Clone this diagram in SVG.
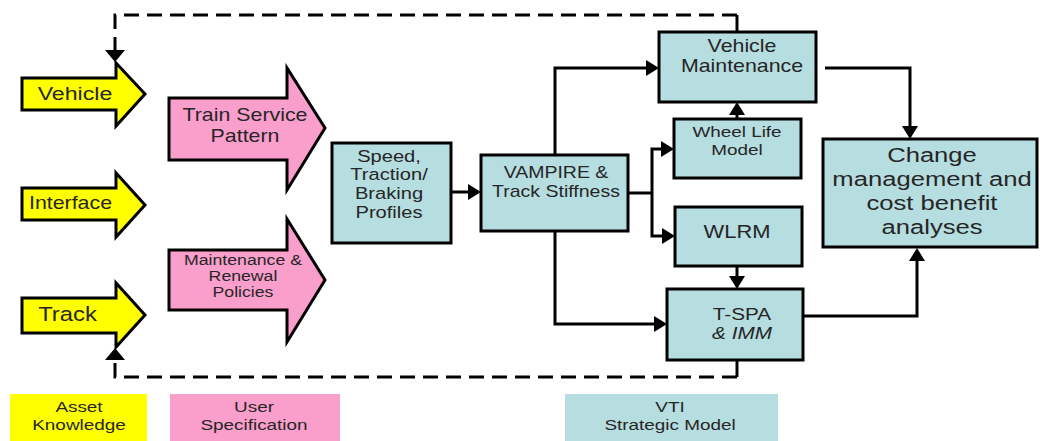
<svg xmlns="http://www.w3.org/2000/svg" width="1040" height="441" viewBox="0 0 1040 441">
  <style>
    .yel { fill: #FFFF00; stroke: #000; stroke-width: 3; stroke-linejoin: miter; }
    .pnk { fill: #FA9ECC; stroke: #000; stroke-width: 3; stroke-linejoin: miter; }
    .box { fill: #B6DDE0; stroke: #000; stroke-width: 3; }
    .lgy { fill: #FFFF00; }
    .lgp { fill: #FA9ECC; }
    .lgb { fill: #B6DDE0; }
    .wire { fill: none; stroke: #000; stroke-width: 3; }
    .dash { fill: none; stroke: #000; stroke-width: 3; stroke-dasharray: 15 8; }
    text { font-family: "Liberation Sans", Arial, sans-serif; fill: #262626; text-anchor: middle; }
  </style>
  <defs>
    <marker id="head" markerUnits="userSpaceOnUse" markerWidth="14" markerHeight="16" refX="10" refY="8" orient="auto">
      <path d="M0,0 L13,8 L0,16 Z" fill="#000"/>
    </marker>
    <!-- wider, flatter head used on the feedback loop -->
    <marker id="dhead" markerUnits="userSpaceOnUse" markerWidth="13" markerHeight="20" refX="9" refY="10" orient="auto">
      <path d="M0,0 L12,10 L0,20 Z" fill="#000"/>
    </marker>
  </defs>

  <rect width="1040" height="441" fill="#fff"/>

  <!-- connectors -->
  <g id="connectors">
    <!-- feedback loop -->
    <path class="wire" d="M737,32 V15"/>
    <path class="dash" d="M737,15 H115 V59" marker-end="url(#dhead)"/>
    <path class="wire" d="M737,360 V377"/>
    <path class="dash" d="M737,377 H115 V351" marker-end="url(#dhead)"/>
    <!-- model chain -->
    <path class="wire" d="M451,192 H478" marker-end="url(#head)"/>
    <path class="wire" d="M555,155 V68 H656" marker-end="url(#head)"/>
    <path class="wire" d="M555,231 V324 H664" marker-end="url(#head)"/>
    <path class="wire" d="M628,193 H652"/>
    <path class="wire" d="M652,193 V149 H671" marker-end="url(#head)"/>
    <path class="wire" d="M652,193 V236 H672" marker-end="url(#head)"/>
    <path class="wire" d="M737,119 V105" marker-end="url(#head)"/>
    <path class="wire" d="M737,266 V286" marker-end="url(#head)"/>
    <path class="wire" d="M825,68 H910 V136" marker-end="url(#head)"/>
    <path class="wire" d="M803,316 H917 V251" marker-end="url(#head)"/>
  </g>

  <!-- asset knowledge inputs -->
  <g id="vehicle">
    <polygon class="yel" points="22,78 116,78 116,63 145,94 116,126 116,110 22,110"/>
    <text font-size="19" transform="matrix(1.22 0 0 1 75 100)">Vehicle</text>
  </g>
  <g id="interface">
    <polygon class="yel" points="22,188 116,188 116,173 145,205 116,237 116,220 22,220"/>
    <text font-size="17.5" transform="matrix(1.22 0 0 1 70.5 209)">Interface</text>
  </g>
  <g id="track">
    <polygon class="yel" points="22,298 116,298 116,283 145,315 116,347 116,333 22,333"/>
    <text font-size="19.5" transform="matrix(1.22 0 0 1 67.5 321)">Track</text>
  </g>

  <!-- user specification -->
  <g id="train-service-pattern">
    <polygon class="pnk" points="169,98 287,98 287,68 325,128 287,190 287,160 169,160"/>
    <text font-size="17.5" transform="matrix(1.22 0 0 1 245 121)"><tspan x="0" y="0">Train Service</tspan><tspan x="0" y="21">Pattern</tspan></text>
  </g>
  <g id="maintenance-renewal">
    <polygon class="pnk" points="169,250 287,250 287,219 325,280 287,342 287,310 169,310"/>
    <text font-size="14.5" transform="matrix(1.22 0 0 1 243 265)"><tspan x="0" y="0">Maintenance &amp;</tspan><tspan x="0" y="16.5">Renewal</tspan><tspan x="0" y="32">Policies</tspan></text>
  </g>

  <!-- strategic model -->
  <g id="speed-profiles">
    <rect class="box" x="332" y="143" width="119" height="100"/>
    <text font-size="16.5" transform="matrix(1.22 0 0 1 389 162)"><tspan x="0" y="0">Speed,</tspan><tspan x="0" y="18.5">Traction/</tspan><tspan x="0" y="37">Braking</tspan><tspan x="0" y="56">Profiles</tspan></text>
  </g>
  <g id="vampire">
    <rect class="box" x="481" y="155" width="147" height="76"/>
    <text font-size="16" transform="matrix(1.22 0 0 1 556 178)"><tspan x="0" y="0">VAMPIRE &amp;</tspan><tspan x="0" y="19">Track Stiffness</tspan></text>
  </g>
  <g id="vehicle-maintenance">
    <rect class="box" x="659" y="32" width="157" height="70"/>
    <text font-size="17.5" transform="matrix(1.22 0 0 1 742 52)"><tspan x="0" y="0">Vehicle</tspan><tspan x="0" y="20">Maintenance</tspan></text>
  </g>
  <g id="wheel-life-model">
    <rect class="box" x="674" y="119" width="127" height="59"/>
    <text font-size="15.5" transform="matrix(1.22 0 0 1 737 137)"><tspan x="0" y="0">Wheel Life</tspan><tspan x="0" y="18">Model</tspan></text>
  </g>
  <g id="wlrm">
    <rect class="box" x="675" y="207" width="127" height="59"/>
    <text font-size="18" transform="matrix(1.22 0 0 1 737 238)">WLRM</text>
  </g>
  <g id="tspa-imm">
    <rect class="box" x="667" y="289" width="136" height="71"/>
    <text font-size="17" transform="matrix(1.22 0 0 1 742 320)"><tspan x="0" y="0">T-SPA</tspan><tspan x="0" y="19" font-style="italic">&amp; IMM</tspan></text>
  </g>
  <g id="change-management">
    <rect class="box" x="823" y="139" width="214" height="108"/>
    <text font-size="21" transform="matrix(1.22 0 0 1 932 162)"><tspan x="0" y="0">Change</tspan><tspan x="0" y="24">management and</tspan><tspan x="0" y="48">cost benefit</tspan><tspan x="0" y="72">analyses</tspan></text>
  </g>

  <!-- legend -->
  <g id="legend-asset">
    <rect class="lgy" x="10" y="394" width="137" height="47"/>
    <text font-size="15.5" transform="matrix(1.22 0 0 1 79 412)"><tspan x="0" y="0">Asset</tspan><tspan x="0" y="18">Knowledge</tspan></text>
  </g>
  <g id="legend-user">
    <rect class="lgp" x="170" y="394" width="170" height="47"/>
    <text font-size="15.5" transform="matrix(1.22 0 0 1 254 412)"><tspan x="0" y="0">User</tspan><tspan x="0" y="18">Specification</tspan></text>
  </g>
  <g id="legend-vti">
    <rect class="lgb" x="565" y="394" width="213" height="47"/>
    <text font-size="15.5" transform="matrix(1.22 0 0 1 670 412)"><tspan x="0" y="0">VTI</tspan><tspan x="0" y="18">Strategic Model</tspan></text>
  </g>
</svg>
